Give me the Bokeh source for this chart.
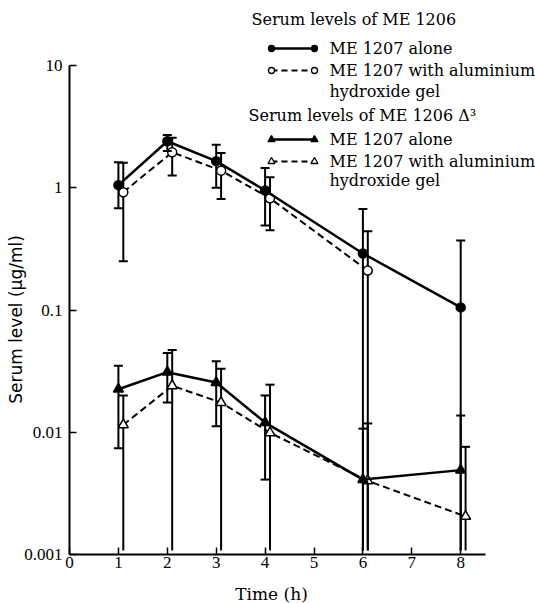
import math
from bokeh.plotting import figure
from bokeh.models import Range1d, FixedTicker
from bokeh.embed import file_html
from bokeh.resources import INLINE
from bokeh.core.properties import value

# ---------------- data ----------------
times = [1, 2, 3, 4, 6, 8]

# Serum levels of ME 1206 - ME 1207 alone (filled circles)
me1206_alone = [1.05, 2.4, 1.65, 0.95, 0.29, 0.105]
me1206_alone_hi = [1.62, 2.7, 2.25, 1.45, 0.67, 0.37]
me1206_alone_lo = [0.68, 2.0, 1.0, 0.49, None, None]

# Serum levels of ME 1206 - with aluminium hydroxide gel (open circles)
times_gel_1206 = [1, 2, 3, 4, 6]
me1206_gel = [0.92, 1.95, 1.38, 0.82, 0.21]
me1206_gel_hi = [1.6, 2.56, 1.92, 1.22, 0.44]
me1206_gel_lo = [0.25, 1.26, 0.81, 0.45, None]

# Serum levels of ME 1206 delta3 - ME 1207 alone (filled triangles)
d3_alone = [0.0225, 0.031, 0.0255, 0.012, 0.0041, 0.0049]
d3_alone_hi = [0.035, 0.0445, 0.038, 0.020, 0.0107, 0.0137]
d3_alone_lo = [0.0074, 0.0175, 0.0112, 0.0041, None, None]

# Serum levels of ME 1206 delta3 - with aluminium hydroxide gel (open triangles)
d3_gel = [0.0115, 0.024, 0.0175, 0.0099, 0.0040, 0.00205]
d3_gel_hi = [0.020, 0.047, 0.033, 0.0245, 0.0118, 0.0076]
d3_gel_lo = [None, None, None, None, None, None]

x_ticks = [0, 1, 2, 3, 4, 5, 6, 7, 8]
y_ticks = [0.001, 0.01, 0.1, 1, 10]
y_tick_labels = ["0.001", "0.01", "0.1", "1", "10"]

# ---------------- layout / style constants (page pixels) ----------------
W, H = 535, 603
AXIS_X_PX = 69        # where x = 0 sits
AXIS_Y_PX = 554       # where y = 0.001 sits
PX_PER_X = 48.9
PX_PER_DECADE = 122.25
X0 = -AXIS_X_PX / PX_PER_X
X1 = (W - AXIS_X_PX) / PX_PER_X
LOG_BOT = -3.0 - (H - AXIS_Y_PX) / PX_PER_DECADE
LOG_TOP = -3.0 + AXIS_Y_PX / PX_PER_DECADE
OPEN_OFFSET = 0.1
FLOOR = 0.00108  # bars that run down to the axis


def px_x(page_x):
    return (page_x - AXIS_X_PX) / PX_PER_X


def px_y(page_y):
    return 10 ** (-3.0 + (AXIS_Y_PX - page_y) / PX_PER_DECADE)


p = figure(width=W, height=H, x_range=Range1d(X0, X1),
           y_range=Range1d(10 ** LOG_BOT, 10 ** LOG_TOP),
           y_axis_type="log", output_backend="svg", toolbar_location=None,
           min_border=0, min_border_left=0, min_border_right=0,
           min_border_top=0, min_border_bottom=0)
p.outline_line_color = None
p.grid.visible = False
p.background_fill_color = "white"
p.border_fill_color = "white"

SERIF = "Liberation Serif"
LEG_FONT = "DejaVu Serif"

# axes, pinned at x = 0 and y = 0.001
p.xaxis.fixed_location = 0.001
p.yaxis.fixed_location = 0
p.xaxis.bounds = (0, 8.5)
p.yaxis.bounds = (0.001, 10)
p.xaxis.ticker = FixedTicker(ticks=x_ticks)
p.yaxis.ticker = FixedTicker(ticks=y_ticks, minor_ticks=[])
p.yaxis.major_label_overrides = {v: s for v, s in zip(y_ticks, y_tick_labels)}
for ax in (p.xaxis[0], p.yaxis[0]):
    ax.axis_line_width = 2
    ax.axis_line_color = "black"
    ax.major_tick_line_color = "black"
    ax.major_tick_line_width = 1.5
    ax.major_tick_in = 7
    ax.major_tick_out = 0
    ax.minor_tick_line_color = None
    ax.major_label_text_font = SERIF
    ax.major_label_text_font_size = "17px"
    ax.major_label_text_color = "black"
p.xaxis.major_label_standoff = 2
p.yaxis.major_label_standoff = 7

# axis titles as text
p.text(x=[px_x(271)], y=[px_y(593)], text=["Time (h)"],
       text_font=value(LEG_FONT), text_font_size="17px",
       text_baseline="middle", text_align="center", text_color="black")
p.text(x=[px_x(15)], y=[px_y(319)], text=["Serum level (μg/ml)"], angle=math.pi / 2,
       text_font=value("DejaVu Sans"), text_font_size="17px",
       text_baseline="middle", text_align="center", text_color="black")


def draw_series(xs, ys, hi, lo, marker, filled, dashed):
    p.line(xs, ys, line_color="black", line_width=2.0 if dashed else 2.5,
           line_dash="7 4" if dashed else "solid")
    lo_end = [FLOOR if v is None else v for v in lo]
    p.segment(x0=xs, y0=lo_end, x1=xs, y1=hi, line_color="black", line_width=2)
    cap_x = list(xs) + [x for x, v in zip(xs, lo) if v is not None]
    cap_y = list(hi) + [v for v in lo if v is not None]
    p.scatter(cap_x, cap_y, marker="dash", size=9, line_color="black", line_width=2)
    size = 9 if marker == "circle" else 10
    p.scatter(xs, ys, marker=marker, size=size,
              fill_color="black" if filled else "white",
              line_color="black", line_width=1.5)


x_open = [t + OPEN_OFFSET for t in times]
x_open_1206 = [t + OPEN_OFFSET for t in times_gel_1206]

draw_series(x_open_1206, me1206_gel, me1206_gel_hi, me1206_gel_lo, "circle", False, True)
draw_series(times, me1206_alone, me1206_alone_hi, me1206_alone_lo, "circle", True, False)
draw_series(x_open, d3_gel, d3_gel_hi, d3_gel_lo, "triangle", False, True)
draw_series(times, d3_alone, d3_alone_hi, d3_alone_lo, "triangle", True, False)

# ---------------- legend (drawn by hand) ----------------
legend_rows = [
    # (y_page, marker, filled, dashed)
    (48, "circle", True, False),
    (70, "circle", False, True),
    (139, "triangle", True, False),
    (161, "triangle", False, True),
]
for yy, mk, filled, dashed in legend_rows:
    lx = [px_x(271), px_x(314)]
    ly = [px_y(yy), px_y(yy)]
    p.line(lx, ly, line_color="black", line_width=2.0 if dashed else 2.5,
           line_dash="6 4" if dashed else "solid")
    p.scatter(lx, ly, marker=mk, size=6 if mk == "circle" else 7,
              fill_color="black" if filled else "white",
              line_color="black", line_width=1.3)

legend_texts = [
    (251, 19, "Serum levels of  ME 1206"),
    (329, 48, "ME 1207 alone"),
    (329, 70, "ME 1207 with aluminium"),
    (329, 91, "hydroxide gel"),
    (248, 115, "Serum levels of ME 1206 Δ³"),
    (329, 139, "ME 1207 alone"),
    (329, 161, "ME 1207 with aluminium"),
    (329, 180, "hydroxide gel"),
]
p.text(x=[px_x(a) for a, b, c in legend_texts],
       y=[px_y(b) for a, b, c in legend_texts],
       text=[c for a, b, c in legend_texts],
       text_font=value(LEG_FONT), text_font_size="16px",
       text_baseline="middle", text_align="left", text_color="black")

open("out.html", "w").write(file_html(p, INLINE))
